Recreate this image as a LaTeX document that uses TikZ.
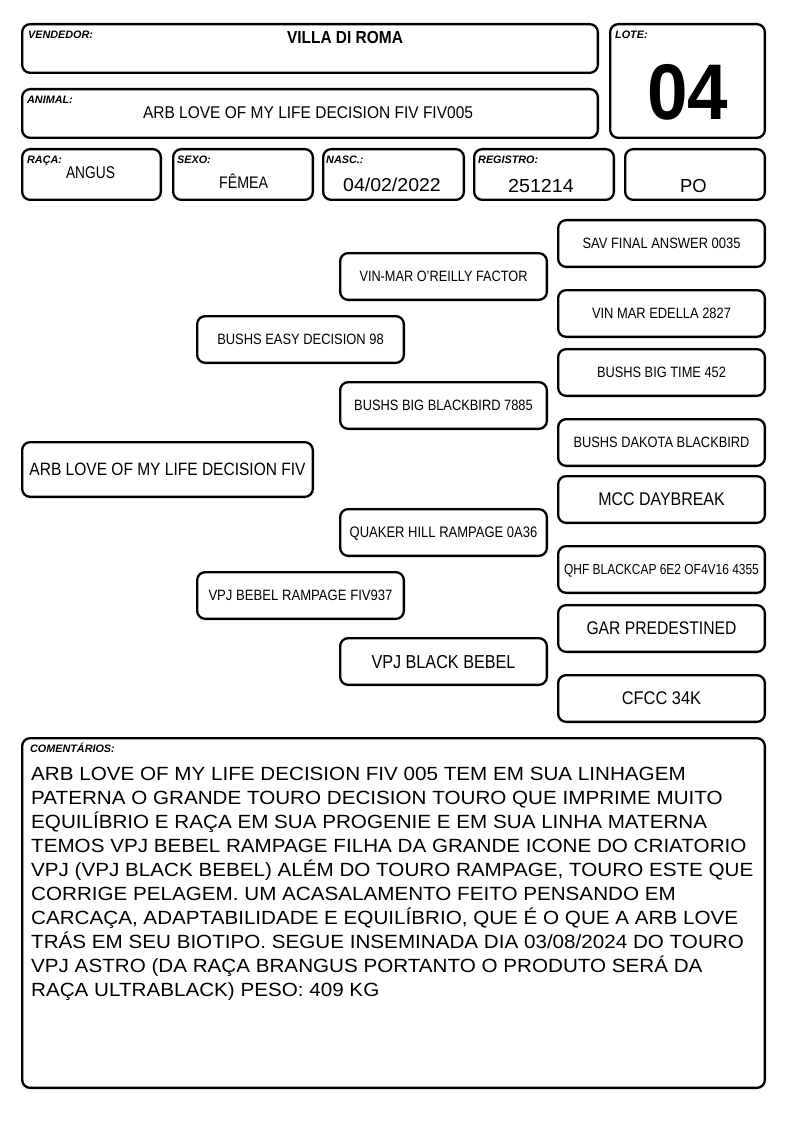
\documentclass[tikz,border=0pt]{standalone}
\usepackage{graphicx}
\usepackage{fontspec}
\setmainfont{Liberation Sans}
\newfontfamily\cmtfont[FakeStretch=1.08]{Liberation Sans}

% fit a one-line text to a given width and cap height (in pt = px)
\newcommand\fitbox[4][]{%
  \begingroup
  \sbox0{#1\fontsize{10}{10}\selectfont #4}%
  \sbox2{#1\fontsize{10}{10}\selectfont H}%
  \pgfmathsetmacro\fitsx{#2/\the\wd0}%
  \pgfmathsetmacro\fitsy{#3/\the\ht2}%
  \setbox0\hbox{\scalebox{\fitsx}[\fitsy]{\usebox0}}%
  \dp0=0pt \box0
  \endgroup}

\tikzset{
  box/.style={draw=black, line width=2.3pt, rounded corners=8pt, inner sep=0pt, fill=white},
  ped/.style={box, minimum width=206.7pt, minimum height=46.7pt},
  lbl/.style={anchor=base west, inner sep=0pt, font=\fontsize{10.8}{10.8}\selectfont\bfseries\itshape},
  txt/.style={anchor=base, inner sep=0pt},
}

\begin{document}
\begin{tikzpicture}[x=1pt,y=-1pt]
\useasboundingbox[fill=white] (0,0) rectangle (794,1123);

% ---------- header boxes ----------
\node[box, minimum width=575.7pt, minimum height=48.7pt] (vend) at (310,48.5) {};
\node[box, minimum width=154.7pt, minimum height=113.7pt] (lote) at (687.5,81) {};
\node[box, minimum width=575.7pt, minimum height=48.7pt] (animal) at (310,113.5) {};
\node[box, minimum width=138.7pt, minimum height=50.7pt] (raca) at (91.5,174.5) {};
\node[box, minimum width=139.7pt, minimum height=50.7pt] (sexo) at (243,174.5) {};
\node[box, minimum width=140.7pt, minimum height=50.7pt] (nasc) at (393.5,174.5) {};
\node[box, minimum width=139.7pt, minimum height=50.7pt] (reg) at (544,174.5) {};
\node[box, minimum width=139.7pt, minimum height=50.7pt] (po) at (695,174.5) {};

% labels
\node[lbl] (vendlbl) at (28,39) {VENDEDOR:};
\node[lbl] (lotelbl) at (615,39) {LOTE:};
\node[lbl] (animallbl) at (27,103.7) {ANIMAL:};
\node[lbl] (racalbl) at (27,163.5) {RAÇA:};
\node[lbl] (sexolbl) at (177,163.5) {SEXO:};
\node[lbl] (nasclbl) at (326,163.5) {NASC.:};
\node[lbl] (reglbl) at (478,163.5) {REGISTRO:};

% values
\node[txt] (vendtxt) at (345,43.3) {\fitbox[\bfseries]{116}{12}{VILLA DI ROMA}};
\node[txt] (lotetxt) at (688,119.3) {\fitbox[\bfseries]{81}{54.3}{04}};
\node[txt] (animaltxt) at (308,119) {\fitbox{330}{11.7}{ARB LOVE OF MY LIFE DECISION FIV FIV005}};
\node[txt] (racatxt) at (90.5,178.3) {\fitbox{49}{11.7}{ANGUS}};
\node[txt] (sexotxt) at (243.6,189) {\fitbox{49}{11.5}{FÊMEA}};
\node[txt] (nasctxt) at (392,191.8) {\fitbox{97.7}{12.8}{04/02/2022}};
\node[txt] (regtxt) at (541,193) {\fitbox{65.8}{13}{251214}};
\node[txt] (potxt) at (693.4,193) {\fitbox{26.6}{13}{PO}};

% ---------- pedigree ----------
\node[box, minimum width=290.7pt, minimum height=54.7pt] (arb) at (167.5,469.5) {\fitbox{276}{12.3}{ARB LOVE OF MY LIFE DECISION FIV}};

\node[ped] (easy) at (300.5,339.5) {\fitbox{166.5}{10.3}{BUSHS EASY DECISION 98}};
\node[ped] (bebel) at (300.5,595.5) {\fitbox{184}{10.3}{VPJ BEBEL RAMPAGE FIV937}};

\node[ped] (vinmar) at (443.5,276.5) {\fitbox{168}{10.3}{VIN-MAR O'REILLY FACTOR}};
\node[ped] (blackbird) at (443.5,405.5) {\fitbox{178.6}{10.3}{BUSHS BIG BLACKBIRD 7885}};
\node[ped] (quaker) at (443.5,532.5) {\fitbox{187.7}{10.5}{QUAKER HILL RAMPAGE 0A36}};
\node[ped] (blackbebel) at (443.5,661.5) {\fitbox{144}{12.9}{VPJ BLACK BEBEL}};

\node[ped] (sav) at (661.5,243.5) {\fitbox{158}{10.3}{SAV FINAL ANSWER 0035}};
\node[ped] (edella) at (661.5,313.5) {\fitbox{139}{10.3}{VIN MAR EDELLA 2827}};
\node[ped] (bigtime) at (661.5,372.5) {\fitbox{129}{10.3}{BUSHS BIG TIME 452}};
\node[ped] (dakota) at (661.5,442.5) {\fitbox{176}{10.3}{BUSHS DAKOTA BLACKBIRD}};
\node[ped] (mcc) at (661.5,499.5) {\fitbox{126.5}{12.6}{MCC DAYBREAK}};
\node[ped] (qhf) at (661.5,569.5) {\fitbox{194.7}{10}{QHF BLACKCAP 6E2 OF4V16 4355}};
\node[ped] (gar) at (661.5,628.5) {\fitbox{150}{12.6}{GAR PREDESTINED}};
\node[ped] (cfcc) at (661.5,698.5) {\fitbox{79.4}{12.6}{CFCC 34K}};

% ---------- comments ----------
\node[box, minimum width=742.7pt, minimum height=349.7pt] (cmt) at (393.5,913) {};
\node[lbl] (cmtlbl) at (30,752.7) {COMENTÁRIOS:};
\node[anchor=base west, inner sep=0pt] (cmttxt) at (31,780) {\vtop{\cmtfont\fontsize{19.1}{24}\selectfont
\hbox{ARB LOVE OF MY LIFE DECISION FIV 005 TEM EM SUA LINHAGEM}
\hbox{PATERNA O GRANDE TOURO DECISION TOURO QUE IMPRIME MUITO}
\hbox{EQUILÍBRIO E RAÇA EM SUA PROGENIE E EM SUA LINHA MATERNA}
\hbox{TEMOS VPJ BEBEL RAMPAGE FILHA DA GRANDE ICONE DO CRIATORIO}
\hbox{VPJ (VPJ BLACK BEBEL) ALÉM DO TOURO RAMPAGE, TOURO ESTE QUE}
\hbox{CORRIGE PELAGEM. UM ACASALAMENTO FEITO PENSANDO EM}
\hbox{CARCAÇA, ADAPTABILIDADE E EQUILÍBRIO, QUE É O QUE A ARB LOVE}
\hbox{TRÁS EM SEU BIOTIPO. SEGUE INSEMINADA DIA 03/08/2024 DO TOURO}
\hbox{VPJ ASTRO (DA RAÇA BRANGUS PORTANTO O PRODUTO SERÁ DA}
\hbox{RAÇA ULTRABLACK) PESO: 409 KG}}};
\end{tikzpicture}
\end{document}
